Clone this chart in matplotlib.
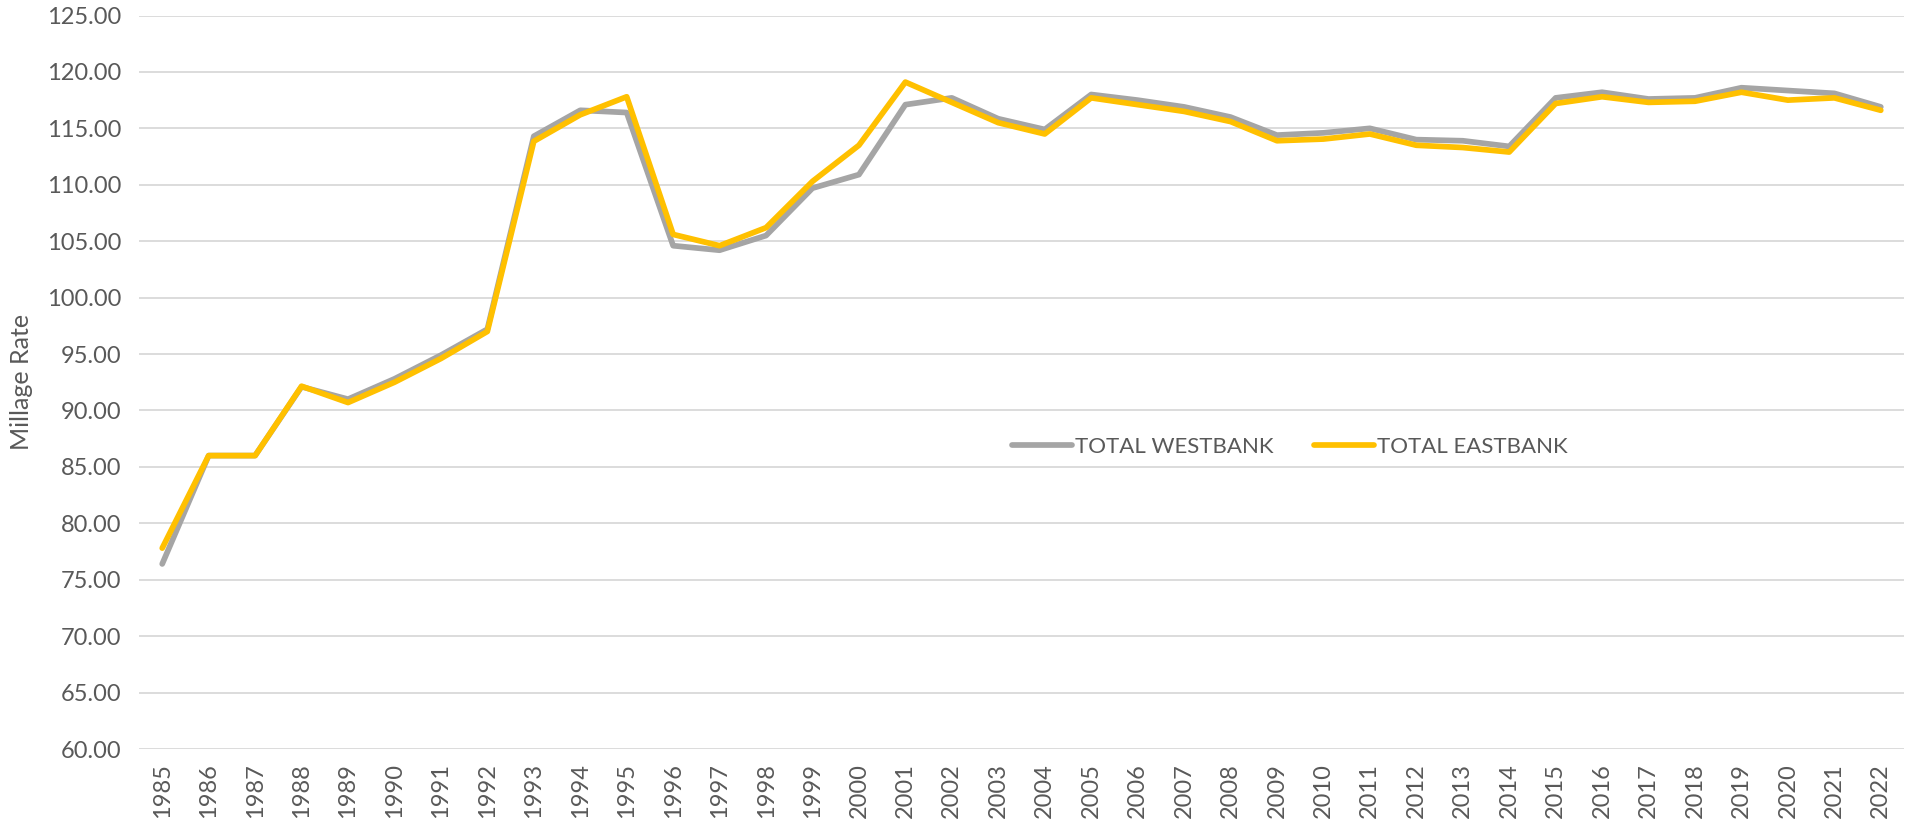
import matplotlib
matplotlib.use("Agg")
import matplotlib.pyplot as plt

years = [str(y) for y in range(1985, 2023)]
westbank = [76.4, 86.0, 86.0, 92.1, 91.0, 92.8, 94.9, 97.2, 114.3, 116.6,
            116.4, 104.6, 104.2, 105.5, 109.7, 110.9, 117.1, 117.7, 115.85, 114.9,
            118.0, 117.5, 116.9, 116.0, 114.4, 114.6, 115.0, 114.0, 113.9, 113.4,
            117.7, 118.2, 117.6, 117.7, 118.6, 118.35, 118.1, 116.9]
eastbank = [77.8, 86.0, 86.0, 92.15, 90.7, 92.5, 94.6, 97.0, 113.85, 116.2,
            117.8, 105.6, 104.6, 106.2, 110.3, 113.5, 119.1, 117.3, 115.5, 114.5,
            117.7, 117.1, 116.5, 115.6, 113.9, 114.05, 114.5, 113.5, 113.3, 112.9,
            117.2, 117.8, 117.3, 117.4, 118.2, 117.5, 117.7, 116.6]
yticks = [60, 65, 70, 75, 80, 85, 90, 95, 100, 105, 110, 115, 120, 125]

plt.rcParams['font.family'] = ['Lato', 'DejaVu Sans']
text_color = '#595959'

fig = plt.figure(figsize=(19.05, 8.25), dpi=100)
ax = fig.add_axes([139/1905, 1 - 749/825, (1904 - 139)/1905, (749 - 15.5)/825])

x = list(range(len(years)))
ax.plot(x, westbank, color='#A5A5A5', lw=4.1, label='TOTAL WESTBANK',
        solid_joinstyle='round', solid_capstyle='round', zorder=3)
ax.plot(x, eastbank, color='#FFC000', lw=4.1, label='TOTAL EASTBANK',
        solid_joinstyle='round', solid_capstyle='round', zorder=4)

ax.set_xlim(-0.5, len(years) - 0.5)
ax.set_ylim(60, 125)
ax.set_yticks(yticks)
ax.set_yticklabels([f"{v:.2f}" for v in yticks])
ax.set_xticks(x)
ax.set_xticklabels(years, rotation=90)
ax.tick_params(axis='both', length=0, labelsize=17, colors=text_color)
ax.tick_params(axis='y', pad=13)
ax.tick_params(axis='x', pad=10)
ax.grid(axis='y', color='#D9D9D9', lw=1.3)
ax.set_axisbelow(True)
for s in ax.spines.values():
    s.set_visible(False)

ax.set_ylabel('Millage Rate', fontsize=18, color=text_color, labelpad=10)

leg = ax.legend(loc='center', bbox_to_anchor=(0.652, 0.412), ncol=2, frameon=False,
                fontsize=16, handlelength=2.7, handletextpad=0.15, columnspacing=1.8)
for t in leg.get_texts():
    t.set_color(text_color)

fig.savefig('out.png', dpi=100, facecolor='white')
